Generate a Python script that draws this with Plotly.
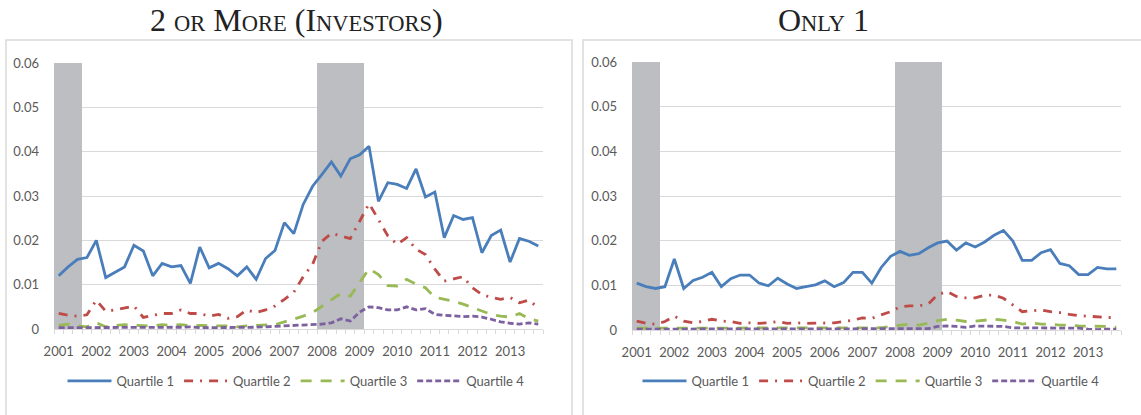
import plotly.graph_objects as go

W, H = 1141, 415

quarters = [f"{y}Q{q}" for y in range(2001, 2014) for q in range(1, 5)]
years = [str(y) for y in range(2001, 2014)]
recession = ["2001Q1", "2001Q2", "2001Q3",
             "2008Q1", "2008Q2", "2008Q3", "2008Q4", "2009Q1"]
y_ticks = [0, 0.01, 0.02, 0.03, 0.04, 0.05, 0.06]
y_labels = ["0", "0.01", "0.02", "0.03", "0.04", "0.05", "0.06"]

# 2 or more investors
multi_q1 = [0.0120, 0.0140, 0.0157, 0.0161, 0.0200, 0.0116, 0.0128, 0.0140, 0.0189, 0.0176,
            0.0120, 0.0148, 0.0140, 0.0143, 0.0103, 0.0185, 0.0138, 0.0148, 0.0136, 0.0120,
            0.0140, 0.0112, 0.0159, 0.0177, 0.0240, 0.0215, 0.0281, 0.0322, 0.0349, 0.0377,
            0.0345, 0.0384, 0.0393, 0.0412, 0.0288, 0.0330, 0.0326, 0.0317, 0.0361, 0.0298,
            0.0309, 0.0206, 0.0256, 0.0247, 0.0251, 0.0172, 0.0211, 0.0223, 0.0151, 0.0204,
            0.0198, 0.0187]
multi_q2 = [0.0035, 0.0031, 0.0029, 0.0032, 0.0065, 0.0040, 0.0043, 0.0047, 0.0052, 0.0026,
            0.0031, 0.0035, 0.0035, 0.0043, 0.0035, 0.0035, 0.0029, 0.0033, 0.0024, 0.0028,
            0.0043, 0.0037, 0.0043, 0.0052, 0.0067, 0.0083, 0.0118, 0.0146, 0.0198, 0.0216,
            0.0210, 0.0204, 0.0243, 0.0283, 0.0247, 0.0210, 0.0191, 0.0206, 0.0180, 0.0168,
            0.0135, 0.0108, 0.0113, 0.0118, 0.0093, 0.0078, 0.0071, 0.0067, 0.0071, 0.0059,
            0.0065, 0.0048]
multi_q3 = [0.0008, 0.0011, 0.0007, 0.0005, 0.0014, 0.0005, 0.0008, 0.0010, 0.0008, 0.0008,
            0.0007, 0.0010, 0.0008, 0.0010, 0.0007, 0.0008, 0.0007, 0.0007, 0.0007, 0.0005,
            0.0007, 0.0008, 0.0010, 0.0010, 0.0016, 0.0022, 0.0029, 0.0037, 0.0052, 0.0067,
            0.0080, 0.0074, 0.0104, 0.0136, 0.0123, 0.0098, 0.0097, 0.0112, 0.0101, 0.0093,
            0.0071, 0.0067, 0.0063, 0.0056, 0.0048, 0.0041, 0.0033, 0.0029, 0.0027, 0.0035,
            0.0023, 0.0018]
multi_q4 = [0.0003, 0.0003, 0.0003, 0.0003, 0.0003, 0.0003, 0.0003, 0.0003, 0.0003, 0.0003,
            0.0003, 0.0003, 0.0004, 0.0004, 0.0005, 0.0003, 0.0003, 0.0003, 0.0003, 0.0003,
            0.0003, 0.0004, 0.0005, 0.0006, 0.0006, 0.0007, 0.0008, 0.0009, 0.0011, 0.0014,
            0.0023, 0.0018, 0.0038, 0.0050, 0.0048, 0.0043, 0.0043, 0.0050, 0.0043, 0.0046,
            0.0033, 0.0031, 0.0029, 0.0028, 0.0029, 0.0027, 0.0022, 0.0016, 0.0013, 0.0011,
            0.0014, 0.0011]

# only 1 investor
single_q1 = [0.0105, 0.0097, 0.0093, 0.0097, 0.0159, 0.0093, 0.0111, 0.0118, 0.0129, 0.0097,
             0.0115, 0.0123, 0.0123, 0.0105, 0.0099, 0.0116, 0.0103, 0.0093, 0.0097, 0.0101,
             0.0110, 0.0097, 0.0106, 0.0129, 0.0129, 0.0105, 0.0140, 0.0165, 0.0176, 0.0167,
             0.0171, 0.0184, 0.0195, 0.0199, 0.0179, 0.0195, 0.0186, 0.0197, 0.0212, 0.0223,
             0.0199, 0.0156, 0.0156, 0.0173, 0.0180, 0.0149, 0.0144, 0.0124, 0.0124, 0.0140,
             0.0137, 0.0137]
single_q2 = [0.0020, 0.0015, 0.0013, 0.0019, 0.0031, 0.0020, 0.0016, 0.0019, 0.0024, 0.0020,
             0.0019, 0.0015, 0.0016, 0.0015, 0.0016, 0.0019, 0.0015, 0.0016, 0.0015, 0.0015,
             0.0015, 0.0016, 0.0019, 0.0022, 0.0027, 0.0026, 0.0034, 0.0041, 0.0052, 0.0054,
             0.0054, 0.0058, 0.0079, 0.0086, 0.0075, 0.0072, 0.0072, 0.0078, 0.0078, 0.0071,
             0.0056, 0.0041, 0.0043, 0.0045, 0.0041, 0.0039, 0.0035, 0.0032, 0.0031, 0.0029,
             0.0028, 0.0028]
single_q3 = [0.0004, 0.0004, 0.0005, 0.0004, 0.0004, 0.0004, 0.0004, 0.0005, 0.0004, 0.0004,
             0.0004, 0.0004, 0.0004, 0.0004, 0.0005, 0.0004, 0.0004, 0.0004, 0.0004, 0.0004,
             0.0004, 0.0004, 0.0004, 0.0005, 0.0004, 0.0004, 0.0005, 0.0008, 0.0010, 0.0013,
             0.0011, 0.0015, 0.0021, 0.0024, 0.0022, 0.0019, 0.0020, 0.0022, 0.0024, 0.0022,
             0.0019, 0.0013, 0.0016, 0.0013, 0.0013, 0.0011, 0.0011, 0.0009, 0.0009, 0.0008,
             0.0008, 0.0006]
single_q4 = [0.0002, 0.0002, 0.0002, 0.0002, 0.0002, 0.0002, 0.0002, 0.0002, 0.0002, 0.0002,
             0.0002, 0.0002, 0.0002, 0.0002, 0.0002, 0.0002, 0.0002, 0.0002, 0.0002, 0.0002,
             0.0002, 0.0002, 0.0002, 0.0002, 0.0002, 0.0002, 0.0002, 0.0002, 0.0002, 0.0002,
             0.0002, 0.0003, 0.0008, 0.0009, 0.0008, 0.0006, 0.0009, 0.0009, 0.0009, 0.0008,
             0.0005, 0.0005, 0.0005, 0.0005, 0.0005, 0.0005, 0.0005, 0.0004, 0.0002, 0.0001,
             0.0002, 0.0002]

names = ["Quartile 1", "Quartile 2", "Quartile 3", "Quartile 4"]
colors = ["#4A7EBB", "#BE4B48", "#98B954", "#7D60A0"]
dashes = ["solid", "9px,7px,2px,7px", "11px,9px", "6px,3px"]

x = list(range(len(quarters)))
rec_x = [quarters.index(q) for q in recession]
rec_y = [0.06] * len(rec_x)
tick_x = [quarters.index(f"{y}Q1") for y in years]

FONT = "Lato, 'Open Sans', sans-serif"
GRAY = "#595959"

fig = go.Figure()
panels = [
    ("x", "y", "legend", [multi_q1, multi_q2, multi_q3, multi_q4]),
    ("x2", "y2", "legend2", [single_q1, single_q2, single_q3, single_q4]),
]
for xa, ya, lg, series in panels:
    fig.add_trace(go.Bar(x=rec_x, y=rec_y, width=1, marker=dict(color="#BDBEC1", line_width=0),
                         xaxis=xa, yaxis=ya, showlegend=False, hoverinfo="skip"))
    for nm, s, c, d in zip(names, series, colors, dashes):
        fig.add_trace(go.Scatter(x=x, y=s, mode="lines", name=nm, xaxis=xa, yaxis=ya, legend=lg,
                                 line=dict(color=c, width=2.8, dash=d)))

xcommon = dict(range=[-0.5, len(quarters) - 0.5], tickvals=tick_x, ticktext=years,
               showgrid=False, zeroline=False, showline=True, linecolor="#D9D9D9", linewidth=1,
               ticks="", ticklabelstandoff=10, automargin=False,
               minor=dict(ticks="outside", tick0=-0.5, dtick=1, ticklen=4, tickcolor="#D9D9D9"),
               tickfont=dict(family=FONT, size=13, color=GRAY), fixedrange=True)
ycommon = dict(range=[0, 0.06], tickvals=y_ticks, ticktext=y_labels, showgrid=True,
               gridcolor="#D9D9D9", gridwidth=1, zeroline=False, showline=False, ticks="",
               ticklabelstandoff=14, automargin=False,
               tickfont=dict(family=FONT, size=13, color=GRAY), fixedrange=True)

fig.update_layout(
    width=W, height=H, margin=dict(l=0, r=0, t=0, b=0, autoexpand=False),
    paper_bgcolor="white", plot_bgcolor="white", bargap=0, barmode="overlay",
    xaxis=dict(domain=[54 / W, 543 / W], anchor="y", **xcommon),
    yaxis=dict(domain=[1 - 329 / H, 1 - 63 / H], anchor="x", **ycommon),
    xaxis2=dict(domain=[632 / W, 1121 / W], anchor="y2", **xcommon),
    yaxis2=dict(domain=[1 - 330 / H, 1 - 62 / H], anchor="x2", **ycommon),
    legend=dict(orientation="h", x=296 / W, xanchor="center", y=1 - 381 / H, yanchor="middle",
                font=dict(family=FONT, size=13, color=GRAY), itemwidth=44, tracegroupgap=0),
    legend2=dict(orientation="h", x=871 / W, xanchor="center", y=1 - 381 / H, yanchor="middle",
                 font=dict(family=FONT, size=13, color=GRAY), itemwidth=44, tracegroupgap=0),
    shapes=[
        dict(type="rect", xref="paper", yref="paper", x0=6 / W, x1=572 / W, y0=-0.01, y1=1 - 40 / H,
             line=dict(color="#D9D9D9", width=1.5), layer="below"),
        dict(type="rect", xref="paper", yref="paper", x0=583 / W, x1=1.01, y0=-0.01, y1=1 - 40 / H,
             line=dict(color="#D9D9D9", width=1.5), layer="below"),
    ],
)


def small_caps(text, small=22.5):
    out = []
    for ch in text:
        if ch.islower():
            out.append(f"<span style='font-size:{small}px'>{ch.upper()}</span>")
        else:
            out.append(ch)
    return "".join(out)


for cx, label in [(296, "2 or More (Investors)"), (823, "Only 1")]:
    fig.add_annotation(xref="paper", yref="paper", x=cx / W, y=1 - 20 / H,
                       xanchor="center", yanchor="middle",
                       showarrow=False, text=small_caps(label),
                       font=dict(family="'Liberation Serif', 'DejaVu Serif', serif", size=32,
                                 color="#222222"))

fig.write_html("out.html", config={"displayModeBar": False},
               post_script="document.body.style.margin='0';")
